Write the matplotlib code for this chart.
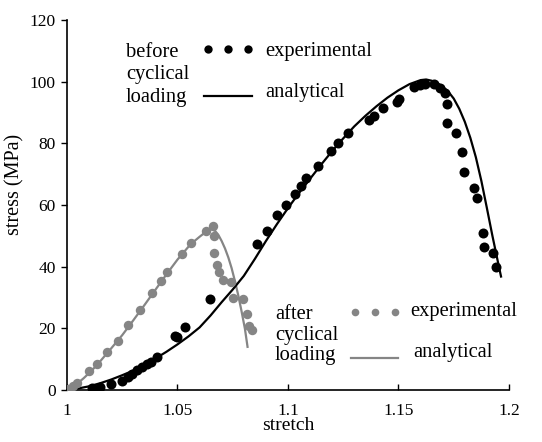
import matplotlib
matplotlib.use("Agg")
import numpy as np
from matplotlib import pyplot as plt
from matplotlib.ticker import FormatStrFormatter

plt.rcParams['font.family'] = ['Liberation Serif', 'DejaVu Serif']

# before cyclical loading - measured points
before_exp_x = [1.0112, 1.0149, 1.0199, 1.0247, 1.0277, 1.0293, 1.0318, 1.0338, 1.0363,
                1.0379, 1.0406, 1.0489, 1.0499, 1.0534, 1.0647, 1.0858, 1.0906, 1.0952,
                1.0991, 1.1032, 1.1057, 1.1081, 1.1137, 1.1193, 1.1228, 1.1273, 1.1368,
                1.1389, 1.1431, 1.1492, 1.1504, 1.1570, 1.1597, 1.1620, 1.1661, 1.1688,
                1.1710, 1.1718, 1.1721, 1.1760, 1.1789, 1.1796, 1.1842, 1.1857, 1.1884,
                1.1887, 1.1926, 1.1941]
before_exp_y = [0.5, 1.1, 1.8, 3.0, 4.1, 5.2, 6.5, 7.4, 8.4,
                9.2, 10.8, 17.5, 17.3, 20.3, 29.4, 47.5, 51.7, 56.8,
                60.0, 63.6, 66.2, 68.7, 72.7, 77.6, 80.0, 83.2, 87.6,
                88.9, 91.4, 93.5, 94.3, 98.2, 98.9, 99.4, 99.3, 97.9,
                96.4, 92.8, 86.5, 83.2, 77.3, 70.8, 65.4, 62.2, 50.8,
                46.5, 44.5, 39.8]

# before cyclical loading - model
before_fit_x = [1.0, 1.005, 1.01, 1.015, 1.02, 1.025, 1.03, 1.035, 1.04, 1.045, 1.05,
                1.055, 1.06, 1.065, 1.07, 1.075, 1.08, 1.085, 1.09, 1.095, 1.10,
                1.105, 1.11, 1.115, 1.12, 1.125, 1.13, 1.135, 1.14, 1.145, 1.15,
                1.155, 1.16, 1.1625, 1.165, 1.1675, 1.17, 1.1725, 1.175, 1.1775,
                1.18, 1.1825, 1.185, 1.1875, 1.19, 1.1925, 1.195, 1.1964]
before_fit_y = [0.0, 0.5, 1.2, 2.2, 3.4, 4.8, 6.3, 8.1, 10.2, 12.4, 14.8,
                17.4, 20.3, 24.2, 28.5, 32.6, 37.0, 42.5, 48.3, 53.8, 59.0,
                63.9, 68.5, 73.1, 77.5, 81.6, 85.5, 88.9, 92.0, 94.8, 97.2,
                99.2, 100.5, 100.7, 100.3, 99.6, 98.4, 96.8, 94.5, 91.2,
                87.0, 81.8, 75.5, 67.8, 59.0, 50.0, 41.5, 36.8]

# after cyclical loading - measured points
after_exp_x = [1.0006, 1.0026, 1.0047, 1.0101, 1.0137, 1.0182, 1.0232, 1.0277, 1.0330,
               1.0383, 1.0424, 1.0451, 1.0519, 1.0560, 1.0628, 1.0659, 1.0665, 1.0664,
               1.0677, 1.0689, 1.0707, 1.0741, 1.0753, 1.0795, 1.0816, 1.0825, 1.0836]
after_exp_y = [0.2, 1.3, 2.4, 6.3, 8.4, 12.4, 16.0, 21.1, 25.9,
               31.4, 35.5, 38.4, 44.0, 47.6, 51.7, 53.2, 50.0, 44.5,
               40.5, 38.4, 35.7, 35.1, 29.7, 29.4, 24.6, 20.8, 19.5]

# after cyclical loading - model
after_fit_x = [1.0, 1.0025, 1.005, 1.0075, 1.01, 1.0125, 1.015, 1.0175, 1.02, 1.025,
               1.03, 1.035, 1.04, 1.045, 1.05, 1.055, 1.0575, 1.06, 1.0625, 1.064,
               1.0655, 1.067, 1.0685, 1.07, 1.0715, 1.073, 1.0745, 1.076, 1.0775,
               1.079, 1.0805, 1.0817]
after_fit_y = [0.0, 1.0, 2.3, 3.8, 5.5, 7.3, 9.3, 11.4, 13.5, 17.8,
               22.6, 27.5, 32.5, 37.5, 42.3, 46.5, 48.2, 49.7, 51.1, 51.8,
               52.1, 51.6, 50.3, 48.3, 45.9, 43.0, 39.5, 35.3, 30.7,
               25.5, 19.9, 14.0]

gray = '#858585'

fig = plt.figure(figsize=(5.42, 4.42), dpi=100)
ax = fig.add_axes([0.1236, 0.1176, 0.8155, 0.8372])

ax.plot(after_fit_x, after_fit_y, color=gray, lw=1.6, zorder=2)
ax.plot(before_fit_x, before_fit_y, color='black', lw=1.6, zorder=2)
ax.plot(after_exp_x, after_exp_y, 'o', color=gray, ms=6.8, mec='none', zorder=3)
ax.plot(before_exp_x, before_exp_y, 'o', color='black', ms=7.2, mec='none', zorder=4)

ax.set_xlim(1, 1.2)
ax.set_ylim(0, 120)
ax.set_xticks([1, 1.05, 1.1, 1.15, 1.2])
ax.set_yticks(range(0, 121, 20))
ax.xaxis.set_major_formatter(FormatStrFormatter('%g'))
ax.tick_params(axis='x', direction='in', length=4, width=1, labelsize=12.5, pad=9)
ax.tick_params(axis='y', direction='out', length=4, width=1, labelsize=12.5, pad=4)
for side in ['top', 'right']:
    ax.spines[side].set_visible(False)
for side in ['left', 'bottom']:
    ax.spines[side].set_linewidth(1.2)
ax.set_xlabel('stretch', fontsize=14, labelpad=-1)
ax.set_ylabel('stress (MPa)', fontsize=14.5)
ax.yaxis.set_label_coords(-0.097, 0.555)

# hand-made keys
fs = 14.8
tr = ax.transAxes
ax.text(0.1335, 0.852, 'before\ncyclical\nloading', transform=tr, fontsize=fs,
        va='center', ha='left', linespacing=1.25)
ax.plot([0.319, 0.364, 0.409], [0.9216] * 3, 'o', color='black', ms=6, mec='none',
        transform=tr, clip_on=False)
ax.text(0.448, 0.914, 'experimental', transform=tr, fontsize=fs, va='center')
ax.plot([0.31, 0.4186], [0.7946, 0.7946], color='black', lw=1.6, transform=tr)
ax.text(0.448, 0.8027, 'analytical', transform=tr, fontsize=fs, va='center')

ax.text(0.4706, 0.1486, 'after\ncyclical\nloading', transform=tr, fontsize=fs,
        va='center', ha='left', linespacing=1.1)
ax.plot([0.6516, 0.6968, 0.742], [0.2116] * 3, 'o', color=gray, ms=5.5, mec='none',
        transform=tr, clip_on=False)
ax.text(0.776, 0.2116, 'experimental', transform=tr, fontsize=fs, va='center')
ax.plot([0.6425, 0.749], [0.0865, 0.0865], color=gray, lw=1.6, transform=tr)
ax.text(0.7828, 0.1027, 'analytical', transform=tr, fontsize=fs, va='center')

fig.savefig('out.png', dpi=100)
